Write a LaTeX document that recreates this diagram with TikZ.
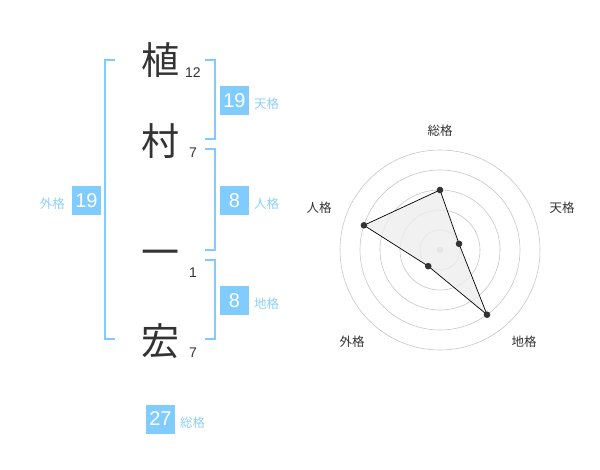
\documentclass[tikz,border=0pt]{standalone}
\usepackage{fontspec}
\setmainfont{Liberation Sans}
\newfontfamily\jpfont{Noto Sans CJK JP}
\usetikzlibrary{arrows.meta}
\definecolor{kakublue}{HTML}{80CCFF}
\definecolor{kakutext}{HTML}{8ED0F8}
\definecolor{inkgray}{HTML}{333333}

\begin{document}
\begin{tikzpicture}[x=1pt,y=-1pt,
        kanji/.style={font=\jpfont\fontsize{38}{38}\selectfont, text=inkgray, inner sep=0},
        strokes/.style={font=\fontsize{14}{14}\selectfont, text=inkgray, inner sep=0},
        kakubox/.style={fill=kakublue, text=white, minimum size=29pt, inner sep=0, font=\fontsize{20}{20}\selectfont},
        kakulabel/.style={font=\jpfont\fontsize{12.5}{12.5}\selectfont, text=kakutext, inner sep=0},
        brace/.style={kakublue, line width=2pt},
        ring/.style={black!22, line width=0.6pt},
        axislabel/.style={font=\jpfont\fontsize{12.5}{12.5}\selectfont, text=inkgray, inner sep=0}]
        \useasboundingbox (0,0) rectangle (600,470);

        % name
        \node[kanji] (ue) at (160,60) {植};
        \node[kanji] (mura) at (160,141) {村};
        \node[kanji] (ichi) at (160,258) {一};
        \node[kanji] (hiro) at (160,341) {宏};
        \node[strokes] (ueN) at (193,73) {12};
        \node[strokes] (muraN) at (193,153) {7};
        \node[strokes] (ichiN) at (193,273) {1};
        \node[strokes] (hiroN) at (193,353) {7};

        % brackets
        \draw[brace] (115,60) -- (105,60) -- (105,339) -- (115,339);
        \draw[brace] (205,60) -- (215,60) -- (215,139) -- (205,139);
        \draw[brace] (205,149) -- (215,149) -- (215,250) -- (205,250);
        \draw[brace] (205,260) -- (215,260) -- (215,339) -- (205,339);

        % scores
        \node[kakubox] (ten) at (234.5,100.5) {19};
        \node[kakubox] (jin) at (234.5,200.5) {8};
        \node[kakubox] (chi) at (234.5,300.5) {8};
        \node[kakubox] (gai) at (86.5,200.5) {19};
        \node[kakubox] (sou) at (160.5,419) {27};
        \node[kakulabel, right] (tenL) at (254,104) {天格};
        \node[kakulabel, right] (jinL) at (254,204) {人格};
        \node[kakulabel, right] (chiL) at (254,304) {地格};
        \node[kakulabel, left] (gaiL) at (65,204) {外格};
        \node[kakulabel, right] (souL) at (180,423) {総格};

        % radar
        \begin{scope}[shift={(440,250)}, yscale=-1]
            \foreach \r in {20,40,...,100}
                \draw[ring] (0,0) circle (\r);
            \fill[black!20] (0,0) circle (3.3);

            \coordinate (pSou) at (90:60);
            \coordinate (pTen) at (18:20);
            \coordinate (pChi) at (-54:80);
            \coordinate (pGai) at (-126:20);
            \coordinate (pJin) at (162:80);

            \draw[black, line width=0.7pt, fill=black!7, fill opacity=0.8]
                (pSou) -- (pTen) -- (pChi) -- (pGai) -- (pJin) -- cycle;
            \foreach \p in {pSou,pTen,pChi,pGai,pJin}
                \fill[inkgray] (\p) circle (3.3);

            \node[axislabel] (aSou) at (0,119) {総格};
            \node[axislabel] (aTen) at (122,42) {天格};
            \node[axislabel] (aChi) at (84,-92) {地格};
            \node[axislabel] (aGai) at (-88,-92) {外格};
            \node[axislabel] (aJin) at (-121,42) {人格};
        \end{scope}
    \end{tikzpicture}
\end{document}
